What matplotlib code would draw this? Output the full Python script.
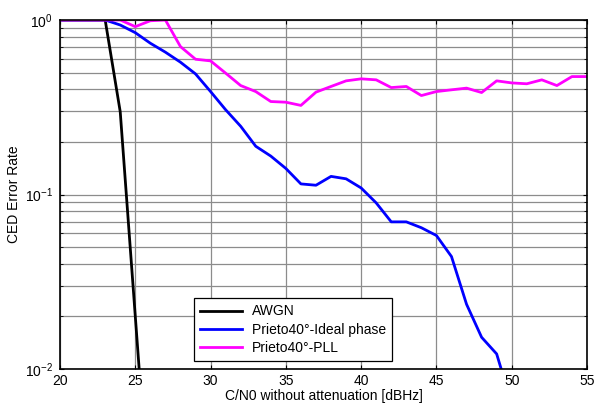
import numpy as np
import matplotlib
matplotlib.use('Agg')
import matplotlib.pyplot as plt
from matplotlib.ticker import LogLocator, NullFormatter

plt.rcParams['font.family'] = ['Liberation Sans', 'DejaVu Sans']
plt.rcParams['mathtext.fontset'] = 'custom'
plt.rcParams['mathtext.rm'] = 'Liberation Sans'
plt.rcParams['mathtext.it'] = 'Liberation Sans:italic'
plt.rcParams['mathtext.bf'] = 'Liberation Sans:bold'

# data
awgn_x = [20, 21, 22, 23, 24, 26]
awgn_y = [1.0, 1.0, 1.0, 1.0, 0.298, 0.00135]

ideal_x = [20, 21, 22, 23, 24, 25, 26, 27, 28, 29, 30, 31, 32, 33, 34, 35, 36, 37,
           38, 39, 40, 41, 42, 43, 44, 45, 46, 47, 48, 49, 50]
ideal_y = [1.0, 1.0, 1.0, 1.0, 0.936, 0.846, 0.736, 0.654, 0.573, 0.491, 0.389,
           0.306, 0.246, 0.189, 0.166, 0.141, 0.115, 0.113, 0.127, 0.123, 0.109,
           0.0895, 0.0697, 0.0697, 0.0645, 0.0582, 0.0441, 0.0235, 0.0152, 0.0122,
           0.0063]

pll_x = list(range(20, 56))
pll_y = [1.0, 1.0, 1.0, 1.0, 1.0, 0.916, 0.99, 1.0, 0.704, 0.596, 0.583, 0.496,
         0.421, 0.389, 0.341, 0.338, 0.324, 0.386, 0.416, 0.448, 0.460, 0.454,
         0.410, 0.416, 0.369, 0.389, 0.398, 0.407, 0.384, 0.448, 0.436, 0.431,
         0.454, 0.421, 0.474, 0.474]

fig = plt.figure(figsize=(5.95, 4.12), dpi=100)
ax = fig.add_axes([60 / 595, 1 - 369 / 412, 527 / 595, 349 / 412])

ax.semilogy(awgn_x, awgn_y, color='black', lw=2, label='AWGN')
ax.semilogy(ideal_x, ideal_y, color='#0000ff', lw=2, label='Prieto40°-Ideal phase')
ax.semilogy(pll_x, pll_y, color='#ff00ff', lw=2, label='Prieto40°-PLL')

ax.set_xlim(20, 55)
ax.set_ylim(0.01, 1)
ax.set_xticks(np.arange(20, 56, 5))
ax.yaxis.set_minor_locator(LogLocator(base=10, subs=np.arange(2, 10)))
ax.yaxis.set_minor_formatter(NullFormatter())

ax.grid(True, which='major', color='#8c8c8c', lw=0.9)
ax.grid(True, which='minor', axis='y', color='#8c8c8c', lw=0.9)
ax.set_axisbelow(True)

ax.tick_params(which='both', direction='in', top=True, right=True, labelsize=10)
ax.tick_params(which='major', length=3)
ax.tick_params(which='minor', length=2)
ax.tick_params(axis='y', pad=5)
for s in ax.spines.values():
    s.set_linewidth(1.2)

ax.set_xlabel('C/N0 without attenuation [dBHz]', fontsize=10, labelpad=1)
ax.set_ylabel('CED Error Rate', fontsize=10, labelpad=3)

leg = ax.legend(loc='lower left', bbox_to_anchor=(134 / 527, 8 / 349), fontsize=10,
                fancybox=False, framealpha=1, edgecolor='black', handlelength=3.0,
                borderpad=0.45, labelspacing=0.3, handletextpad=0.7, borderaxespad=0)
leg.get_frame().set_linewidth(0.9)

fig.savefig('out.png', dpi=100)
